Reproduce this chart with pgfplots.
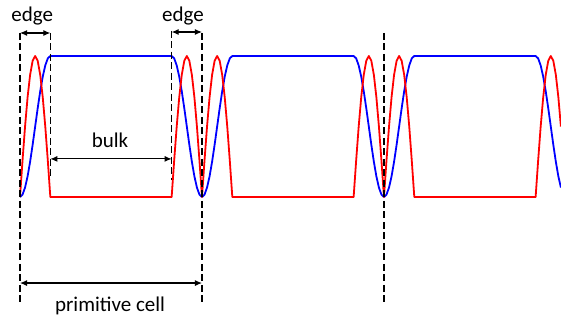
\documentclass[border=0pt]{standalone}
\usepackage{pgfplots}
\pgfplotsset{compat=1.18}
\usepackage{pgfplotstable}
\usepackage{fontspec}
\setmainfont{Carlito}
\usetikzlibrary{arrows.meta}

\pgfplotstableread{
x blue red
0 0 0
0.0833 0.0170 0.2588
0.1667 0.0670 0.5
0.25 0.1464 0.7071
0.3333 0.25 0.8660
0.4167 0.3706 0.9659
0.5 0.5 1
0.5833 0.6294 0.9659
0.6667 0.75 0.8660
0.75 0.8536 0.7071
0.8333 0.9330 0.5
0.9167 0.9830 0.2588
1 1 0
5 1 0
5.0833 0.9830 0.2588
5.1667 0.9330 0.5
5.25 0.8536 0.7071
5.3333 0.75 0.8660
5.4167 0.6294 0.9659
5.5 0.5 1
5.5833 0.3706 0.9659
5.6667 0.25 0.8660
5.75 0.1464 0.7071
5.8333 0.0670 0.5
5.9167 0.0170 0.2588
6 0 0
6.0833 0.0170 0.2588
6.1667 0.0670 0.5
6.25 0.1464 0.7071
6.3333 0.25 0.8660
6.4167 0.3706 0.9659
6.5 0.5 1
6.5833 0.6294 0.9659
6.6667 0.75 0.8660
6.75 0.8536 0.7071
6.8333 0.9330 0.5
6.9167 0.9830 0.2588
7 1 0
11 1 0
11.0833 0.9830 0.2588
11.1667 0.9330 0.5
11.25 0.8536 0.7071
11.3333 0.75 0.8660
11.4167 0.6294 0.9659
11.5 0.5 1
11.5833 0.3706 0.9659
11.6667 0.25 0.8660
11.75 0.1464 0.7071
11.8333 0.0670 0.5
11.9167 0.0170 0.2588
12 0 0
12.0833 0.0170 0.2588
12.1667 0.0670 0.5
12.25 0.1464 0.7071
12.3333 0.25 0.8660
12.4167 0.3706 0.9659
12.5 0.5 1
12.5833 0.6294 0.9659
12.6667 0.75 0.8660
12.75 0.8536 0.7071
12.8333 0.9330 0.5
12.9167 0.9830 0.2588
13 1 0
17 1 0
17.0833 0.9830 0.2588
17.1667 0.9330 0.5
17.25 0.8536 0.7071
17.3333 0.75 0.8660
17.4167 0.6294 0.9659
17.5 0.5 1
17.5833 0.3706 0.9659
17.6667 0.25 0.8660
17.75 0.1464 0.7071
17.8333 0.0670 0.5
}\data

\begin{document}
\begin{tikzpicture}
\begin{axis}[
  width=561pt, height=318pt, scale only axis,
  hide axis, clip=false,
  xmin=-0.6594, xmax=17.837,
  ymin=-0.858, ymax=1.397,
]
\addplot[blue, line width=1.8pt, line join=round] table[x=x, y=blue] {\data};
\addplot[red, line width=1.8pt, line join=round] table[x=x, y=red] {\data};

\begin{scope}[black, line width=1.2pt, dash pattern=on 7pt off 3.5pt]
\draw (axis cs:0,1.163) -- (axis cs:0,-0.76);
\draw (axis cs:1,1.163) -- (axis cs:1,0.14);
\draw (axis cs:5,1.18) -- (axis cs:5,0.12);
\draw (axis cs:6,1.163) -- (axis cs:6,-0.76);
\draw (axis cs:12,1.163) -- (axis cs:12,-0.76);
\end{scope}

\begin{scope}[black, line width=1.1pt, {Latex[length=7pt,width=6pt]}-{Latex[length=7pt,width=6pt]}]
\draw (axis cs:0,1.163) -- (axis cs:1,1.163);
\draw (axis cs:5,1.17) -- (axis cs:6,1.17);
\draw (axis cs:1,0.27) -- (axis cs:5,0.27);
\draw (axis cs:0,-0.61) -- (axis cs:6,-0.61);
\end{scope}

\begin{scope}[font=\fontsize{21}{25}\selectfont]
\node[anchor=base] at (axis cs:0.4,1.245) {edge};
\node[anchor=base] at (axis cs:5.37,1.245) {edge};
\node[anchor=base] at (axis cs:2.97,0.353) {bulk};
\node[anchor=base] at (axis cs:2.97,-0.813) {primitive cell};
\end{scope}
\end{axis}
\pgfresetboundingbox
\useasboundingbox (current axis.south west) rectangle (current axis.north east);
\end{tikzpicture}
\end{document}
